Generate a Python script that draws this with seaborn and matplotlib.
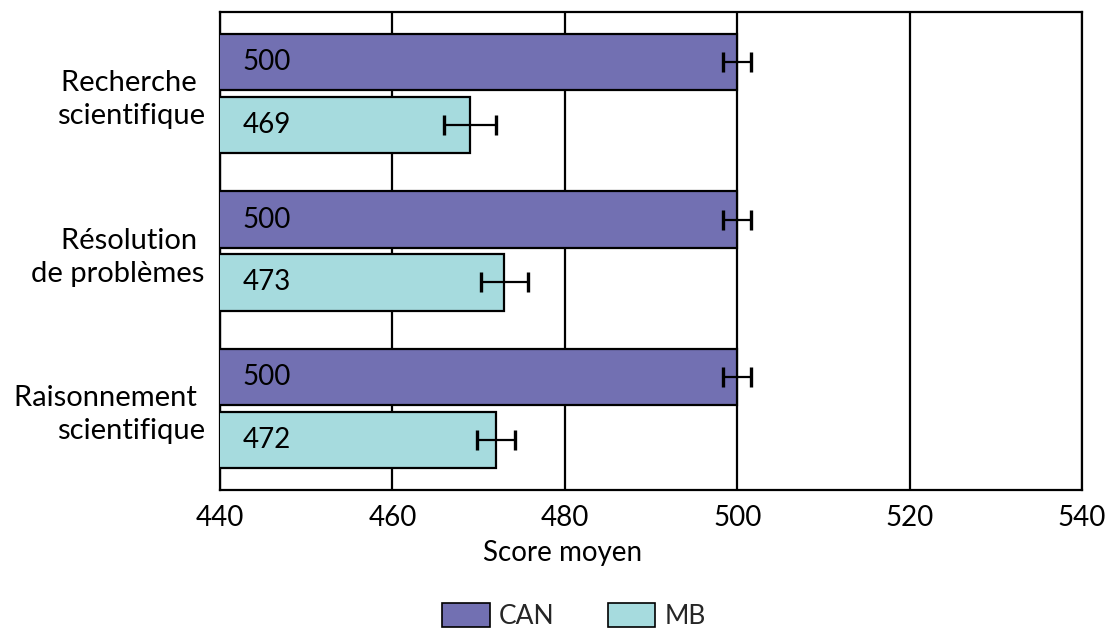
import matplotlib
matplotlib.use("Agg")
import matplotlib.pyplot as plt
import seaborn as sns
import pandas as pd

# Scores by competency, Canada vs Manitoba
categories = ["Recherche \nscientifique", "Résolution \nde problèmes", "Raisonnement \nscientifique"]
groups = ["CAN", "MB"]
can_scores = [500, 500, 500]
mb_scores = [469, 473, 472]
can_err = [1.6, 1.6, 1.6]
mb_err = [3.0, 2.7, 2.2]
x_ticks = [440, 460, 480, 500, 520, 540]

colors = {"CAN": "#7270B2", "MB": "#A6DBDE"}

df = pd.DataFrame({
    "Catégorie": categories * 2,
    "Groupe": ["CAN"] * 3 + ["MB"] * 3,
    "Score": can_scores + mb_scores,
})
errors = {"CAN": can_err, "MB": mb_err}

sns.set_theme(style="white")
plt.rcParams["font.family"] = ["Lato", "DejaVu Sans"]

fig = plt.figure(figsize=(11.07, 6.32), dpi=100)
ax = fig.add_axes([220 / 1107, 1 - 490 / 632, 862 / 1107, 478 / 632])

sns.barplot(data=df, y="Catégorie", x="Score", hue="Groupe", orient="h",
            palette=colors, hue_order=groups, order=categories, saturation=1,
            width=0.8, gap=0.1, edgecolor="black", linewidth=1.6,
            errorbar=None, ax=ax, zorder=3)

# error bars and value labels from each bar's position
for grp, container in zip(groups, ax.containers):
    vals = df[df["Groupe"] == grp]["Score"].tolist()
    for bar, val, err in zip(container.patches, vals, errors[grp]):
        yc = bar.get_y() + bar.get_height() / 2
        ax.errorbar(val, yc, xerr=err, fmt="none", ecolor="black",
                    elinewidth=1.6, capsize=7, capthick=2.4, zorder=5)
        ax.annotate(f"{val}", xy=(x_ticks[0], yc), xytext=(16, 0),
                    textcoords="offset points", ha="left", va="center",
                    fontsize=20, color="black", zorder=6)

ax.set_xlim(x_ticks[0], x_ticks[-1])
ax.set_xticks(x_ticks)
ax.set_xticklabels([str(t) for t in x_ticks])
ax.xaxis.grid(True, color="black", linewidth=1.6, zorder=1)
ax.set_axisbelow(True)
for s in ax.spines.values():
    s.set_visible(True)
    s.set_color("black")
    s.set_linewidth(1.6)

ax.tick_params(axis="x", length=0, pad=11, labelsize=20, colors="black")
ax.tick_params(axis="y", length=0, pad=11, labelsize=21, colors="black")
ax.set_ylabel("")
ax.set_xlabel("Score moyen", fontsize=20, color="black")
ax.xaxis.set_label_coords(0.397, -0.105)

for lbl in ax.get_yticklabels():
    lbl.set_horizontalalignment("right")
    lbl.set_multialignment("right")
    lbl.set_linespacing(1.35)

ax.get_legend().remove()
handles = [plt.Rectangle((0, 0), 1, 1, facecolor=colors[g], edgecolor="black", linewidth=1.2)
           for g in groups]
fig.legend(handles, groups, loc="upper center", bbox_to_anchor=(574 / 1107, 1 - 590 / 632),
           ncol=2, frameon=False, fontsize=19, handlelength=1.8, handleheight=1.0,
           handletextpad=0.35, columnspacing=2.0, borderpad=0)

fig.savefig("out.png", dpi=100)
